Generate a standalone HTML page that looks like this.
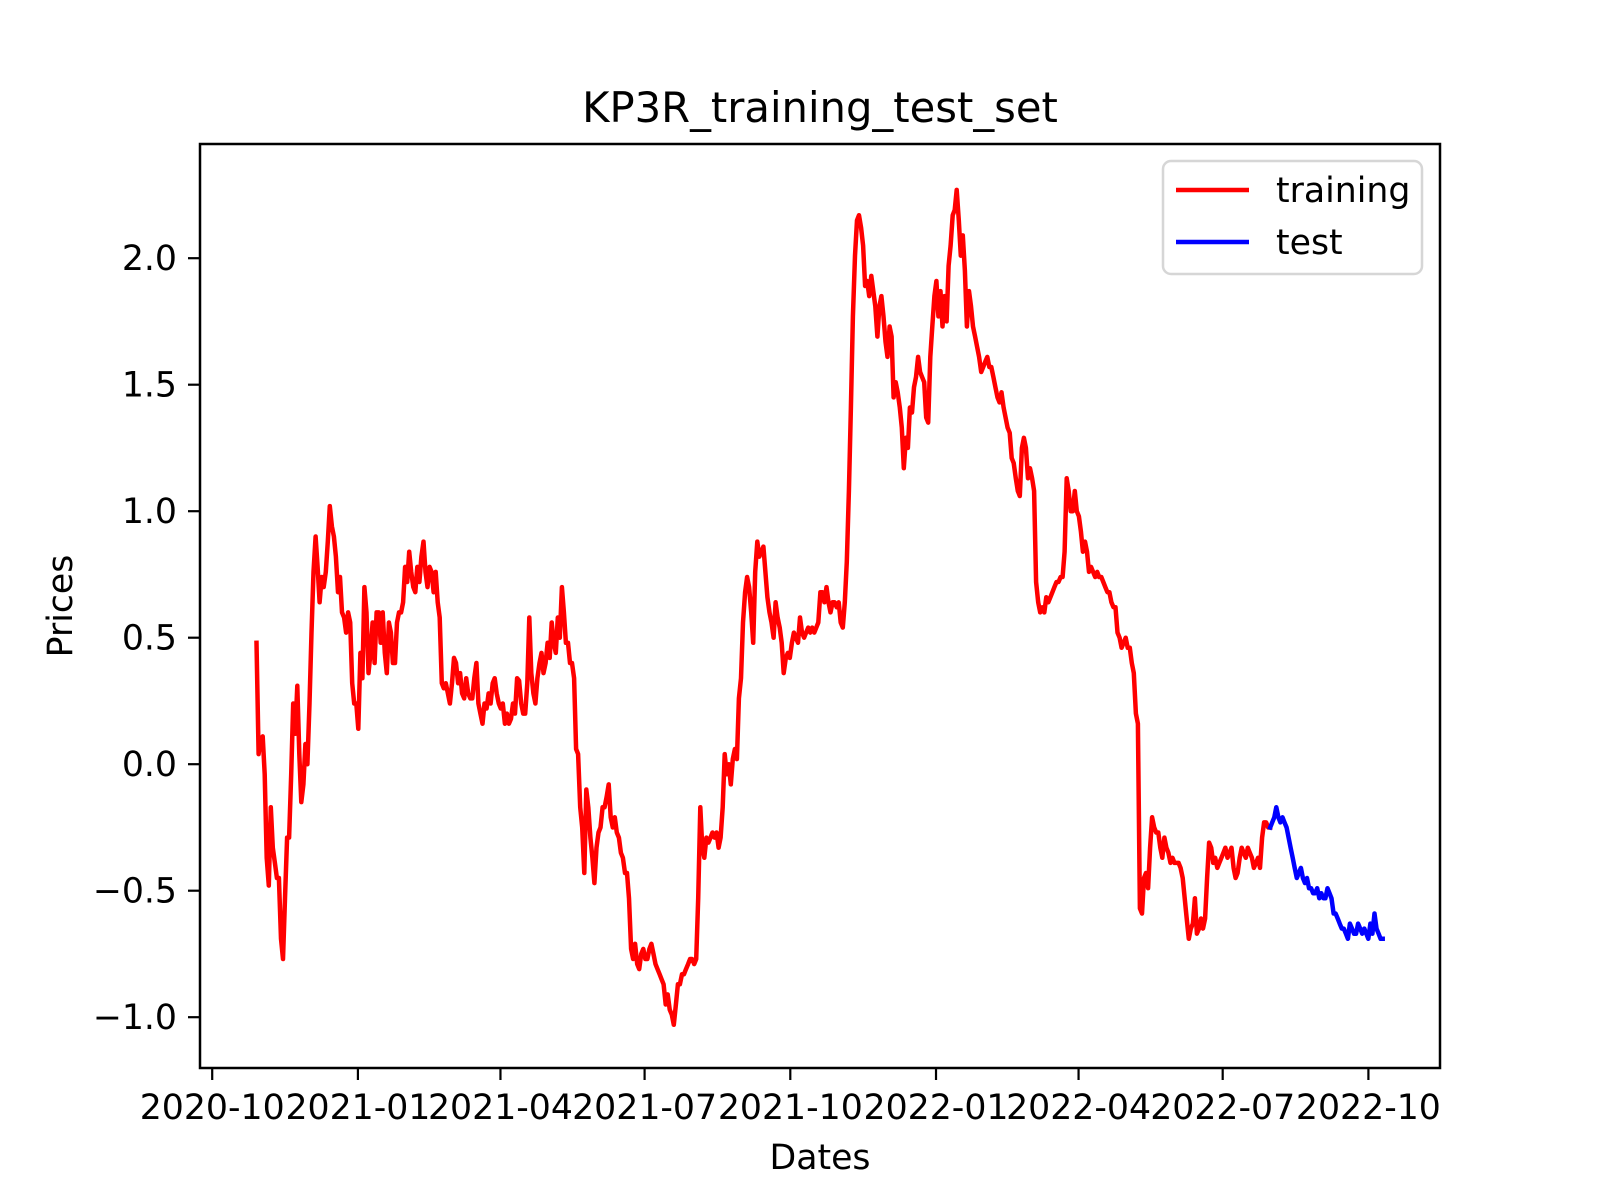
<!DOCTYPE html>
<html><head><meta charset="utf-8"><title>KP3R_training_test_set</title>
<style>html,body{margin:0;padding:0;background:#fff}svg{display:block}text{font-family:"DejaVu Sans","Liberation Sans",sans-serif;fill:#000}</style>
</head><body>
<svg id="chart" width="1600" height="1200" viewBox="0 0 1600 1200" xmlns="http://www.w3.org/2000/svg">
<rect x="0" y="0" width="1600" height="1200" fill="#fff"/>
<text x="820" y="122" font-size="41.7" text-anchor="middle">KP3R_training_test_set</text>
<g id="plot"></g>
<rect x="200" y="144" width="1240" height="924" fill="none" stroke="#000" stroke-width="2.5"/>
<g id="xticks"></g>
<g id="yticks"></g>
<text x="820" y="1169" font-size="34.7" text-anchor="middle">Dates</text>
<text x="0" y="0" font-size="34.7" text-anchor="middle" transform="translate(72,606) rotate(-90)">Prices</text>
<g>
<rect x="1163" y="161" width="259" height="113" rx="8" fill="#fff" fill-opacity="0.8" stroke="#d6d6d6" stroke-width="2.5"/>
<line x1="1176" y1="190" x2="1249" y2="190" stroke="#ff0000" stroke-width="4.5"/>
<text x="1276" y="202" font-size="34.7">training</text>
<line x1="1176" y1="242" x2="1249" y2="242" stroke="#0000ff" stroke-width="4.5"/>
<text x="1276" y="254" font-size="34.7">test</text>
</g>
</svg>
<script>
const tickDates = ["2020-10-01","2021-01-01","2021-04-01","2021-07-01","2021-10-01","2022-01-01","2022-04-01","2022-07-01","2022-10-01"];
const tickLabels = ["2020-10","2021-01","2021-04","2021-07","2021-10","2022-01","2022-04","2022-07","2022-10"];
const yTickValues = [-1.0,-0.5,0.0,0.5,1.0,1.5,2.0];
const trainingStart = "2020-10-29";
const trainingEnd = "2022-07-31";
const testEnd = "2022-10-10";
const trainingValues = [0.48,0.04,0.10,0.11,-0.04,-0.37,-0.48,-0.17,-0.33,-0.39,-0.45,-0.45,-0.69,-0.77,-0.53,-0.29,-0.29,-0.04,0.24,0.12,0.31,0.04,-0.15,-0.08,0.08,0.00,0.24,0.52,0.76,0.90,0.78,0.64,0.74,0.70,0.76,0.88,1.02,0.94,0.90,0.82,0.68,0.74,0.60,0.58,0.52,0.60,0.56,0.32,0.24,0.24,0.14,0.44,0.34,0.70,0.60,0.36,0.44,0.56,0.40,0.60,0.60,0.48,0.60,0.44,0.36,0.56,0.52,0.40,0.40,0.56,0.60,0.60,0.64,0.78,0.72,0.84,0.76,0.70,0.68,0.78,0.72,0.82,0.88,0.76,0.70,0.78,0.76,0.68,0.76,0.64,0.58,0.32,0.30,0.32,0.28,0.24,0.32,0.42,0.40,0.32,0.36,0.28,0.26,0.34,0.28,0.26,0.26,0.34,0.40,0.24,0.20,0.16,0.24,0.22,0.28,0.24,0.32,0.34,0.28,0.24,0.22,0.24,0.16,0.20,0.16,0.18,0.24,0.20,0.34,0.33,0.24,0.20,0.20,0.32,0.58,0.36,0.28,0.24,0.34,0.40,0.44,0.36,0.40,0.48,0.42,0.56,0.48,0.44,0.58,0.50,0.70,0.60,0.48,0.48,0.40,0.40,0.34,0.06,0.04,-0.17,-0.25,-0.43,-0.10,-0.17,-0.29,-0.37,-0.47,-0.33,-0.27,-0.25,-0.17,-0.17,-0.13,-0.08,-0.21,-0.25,-0.21,-0.27,-0.29,-0.35,-0.37,-0.43,-0.43,-0.53,-0.73,-0.77,-0.71,-0.79,-0.81,-0.75,-0.73,-0.77,-0.77,-0.73,-0.71,-0.75,-0.79,-0.81,-0.83,-0.85,-0.87,-0.95,-0.91,-0.97,-0.99,-1.03,-0.95,-0.87,-0.87,-0.83,-0.83,-0.81,-0.79,-0.77,-0.77,-0.79,-0.77,-0.53,-0.17,-0.33,-0.37,-0.29,-0.31,-0.29,-0.27,-0.29,-0.27,-0.33,-0.29,-0.17,0.04,-0.04,0.00,-0.08,0.02,0.06,0.02,0.26,0.34,0.56,0.68,0.74,0.70,0.60,0.48,0.76,0.88,0.82,0.84,0.86,0.76,0.66,0.60,0.56,0.50,0.64,0.58,0.54,0.48,0.36,0.42,0.44,0.42,0.48,0.52,0.50,0.48,0.58,0.52,0.50,0.52,0.54,0.52,0.54,0.52,0.54,0.56,0.68,0.68,0.64,0.70,0.64,0.60,0.64,0.64,0.62,0.64,0.56,0.54,0.64,0.80,1.08,1.41,1.77,2.01,2.15,2.17,2.12,2.05,1.89,1.91,1.85,1.93,1.87,1.81,1.69,1.81,1.85,1.77,1.67,1.61,1.73,1.69,1.45,1.51,1.47,1.41,1.33,1.17,1.29,1.25,1.41,1.39,1.49,1.53,1.61,1.55,1.53,1.51,1.37,1.35,1.61,1.73,1.85,1.91,1.77,1.87,1.73,1.85,1.75,1.97,2.05,2.17,2.19,2.27,2.15,2.01,2.09,1.95,1.73,1.87,1.81,1.73,1.69,1.65,1.61,1.55,1.57,1.59,1.61,1.57,1.57,1.53,1.49,1.45,1.43,1.47,1.41,1.37,1.33,1.31,1.21,1.19,1.13,1.08,1.06,1.25,1.29,1.25,1.13,1.17,1.13,1.08,0.72,0.64,0.60,0.62,0.60,0.66,0.64,0.66,0.68,0.70,0.72,0.72,0.74,0.74,0.84,1.13,1.08,1.00,1.00,1.08,1.00,0.98,0.92,0.84,0.88,0.84,0.76,0.78,0.76,0.74,0.76,0.74,0.74,0.72,0.70,0.68,0.68,0.64,0.62,0.62,0.52,0.50,0.46,0.48,0.50,0.46,0.46,0.40,0.36,0.20,0.16,-0.57,-0.59,-0.45,-0.43,-0.49,-0.33,-0.21,-0.25,-0.27,-0.27,-0.33,-0.37,-0.29,-0.33,-0.35,-0.39,-0.37,-0.39,-0.39,-0.39,-0.41,-0.45,-0.53,-0.61,-0.69,-0.65,-0.63,-0.53,-0.67,-0.65,-0.61,-0.65,-0.61,-0.45,-0.31,-0.33,-0.39,-0.37,-0.41,-0.39,-0.37,-0.35,-0.33,-0.37,-0.35,-0.33,-0.41,-0.45,-0.43,-0.37,-0.33,-0.35,-0.37,-0.33,-0.35,-0.37,-0.41,-0.39,-0.37,-0.41,-0.29,-0.23,-0.23,-0.25,-0.25];
const testValues = [-0.25,-0.23,-0.21,-0.17,-0.21,-0.23,-0.21,-0.23,-0.25,-0.29,-0.33,-0.37,-0.41,-0.45,-0.43,-0.41,-0.45,-0.47,-0.45,-0.49,-0.49,-0.51,-0.51,-0.49,-0.53,-0.51,-0.53,-0.53,-0.49,-0.51,-0.53,-0.59,-0.59,-0.61,-0.63,-0.65,-0.65,-0.67,-0.69,-0.63,-0.65,-0.67,-0.67,-0.63,-0.65,-0.67,-0.65,-0.67,-0.69,-0.63,-0.67,-0.59,-0.65,-0.67,-0.69,-0.69];

const NS = "http://www.w3.org/2000/svg";
const DAY = 86400000;
const origin = Date.UTC(2020,9,1);
function dayOf(s){const p=s.split("-").map(Number);return (Date.UTC(p[0],p[1]-1,p[2])-origin)/DAY;}
const X0 = 212.2, X1 = 1368.4, D1 = dayOf("2022-10-01");
function xScale(day){return X0 + day*(X1-X0)/D1;}
function yScale(v){return 258.2 + (2.0 - v)*253;}

const plot = document.getElementById("plot");
function series(values, startDay, endDay, color, name){
  const n = values.length;
  const pts = values.map((v,i)=>{const d = startDay + (endDay-startDay)*i/(n-1);return xScale(d).toFixed(1)+","+yScale(v).toFixed(1);});
  const pl = document.createElementNS(NS,"polyline");
  pl.setAttribute("points", pts.join(" "));
  pl.setAttribute("fill","none");
  pl.setAttribute("stroke",color);
  pl.setAttribute("stroke-width","4.5");
  pl.setAttribute("stroke-linejoin","round");
  pl.setAttribute("stroke-linecap","square");
  
  
  plot.appendChild(pl);
}
series(trainingValues, dayOf(trainingStart), dayOf(trainingEnd), "#ff0000", "training-line");
series(testValues, dayOf(trainingEnd), dayOf(testEnd), "#0000ff", "test-line");

const xg = document.getElementById("xticks");
tickDates.forEach((d,i)=>{
  const x = xScale(dayOf(d));
  const t = document.createElementNS(NS,"line");
  t.setAttribute("x1",x);t.setAttribute("x2",x);t.setAttribute("y1",1068);t.setAttribute("y2",1080);
  t.setAttribute("stroke","#000");t.setAttribute("stroke-width","2.2");
  
  
  xg.appendChild(t);
  const tx = document.createElementNS(NS,"text");
  tx.setAttribute("x",x);tx.setAttribute("y",1119);tx.setAttribute("font-size","34.7");tx.setAttribute("text-anchor","middle");
  tx.textContent = tickLabels[i];
  
  
  xg.appendChild(tx);
});
const yg = document.getElementById("yticks");
yTickValues.forEach(v=>{
  const y = yScale(v);
  const t = document.createElementNS(NS,"line");
  t.setAttribute("x1",188);t.setAttribute("x2",200);t.setAttribute("y1",y);t.setAttribute("y2",y);
  t.setAttribute("stroke","#000");t.setAttribute("stroke-width","2.2");
  
  
  yg.appendChild(t);
  const tx = document.createElementNS(NS,"text");
  tx.setAttribute("x",177);tx.setAttribute("y",y+12);tx.setAttribute("font-size","34.7");tx.setAttribute("text-anchor","end");
  tx.textContent = (v<0?"\u2212":"")+Math.abs(v).toFixed(1);
  
  
  yg.appendChild(tx);
});
</script>
</body></html>
